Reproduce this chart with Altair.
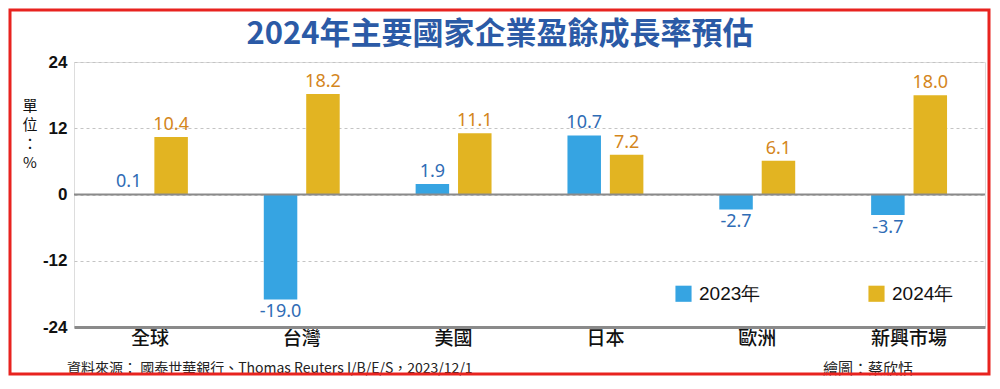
import altair as alt
import pandas as pd

regions = ["全球", "台灣", "美國", "日本", "歐洲", "新興市場"]
series = ["2023年", "2024年"]
v2023 = [0.1, -19.0, 1.9, 10.7, -2.7, -3.7]
v2024 = [10.4, 18.2, 11.1, 7.2, 6.1, 18.0]
y_ticks = [-24, -12, 0, 12, 24]
bar_colors = ["#36a4e2", "#e2b422"]
label_colors = ["#2f6cb5", "#d4861c"]

title_text = "2024年主要國家企業盈餘成長率預估"
unit_text = ["單", "位", "：", "%"]
source_text = "資料來源：  國泰世華銀行、Thomas Reuters I/B/E/S，2023/12/1"
credit_text = "繪圖：蔡欣恬"

rows = []
for r, a, b in zip(regions, v2023, v2024):
    rows.append({"region": r, "series": series[0], "value": a, "label": f"{a:.1f}"})
    rows.append({"region": r, "series": series[1], "value": b, "label": f"{b:.1f}"})
df = pd.DataFrame(rows)

W, H = 911, 265
FONT = "Noto Sans CJK TC"

x = alt.X("region:N", sort=regions, title=None,
          scale=alt.Scale(paddingInner=0.5, paddingOuter=0.25),
          axis=alt.Axis(labelAngle=0, labelFontSize=19, labelColor="#111",
                        labelFont=FONT, labelFontWeight=500, labelPadding=2,
                        ticks=False, domainColor="#8a8a8a", domainWidth=3))
xo = alt.XOffset("series:N", sort=series,
                 scale=alt.Scale(paddingInner=0.21, paddingOuter=0.0))
y = alt.Y("value:Q", title=None,
          scale=alt.Scale(domain=[-24, 24], nice=False),
          axis=alt.Axis(values=y_ticks, labelFontSize=17, labelColor="#111",
                        labelFont="Liberation Sans", labelFontWeight="bold",
                        labelExpr="'' + datum.value",
                        labelPadding=7, ticks=False, domain=False,
                        grid=True, gridDash=[3, 3], gridColor="#c4c4c4",
                        gridWidth=1))

base = alt.Chart(df)

bars = base.mark_bar().encode(
    x=x, xOffset=xo, y=y,
    color=alt.Color("series:N", sort=series,
                    scale=alt.Scale(domain=series, range=bar_colors),
                    legend=alt.Legend(title=None, orient="none",
                                      legendX=600, legendY=222,
                                      direction="horizontal",
                                      symbolType="square", symbolSize=260,
                                      symbolStrokeWidth=0, symbolOpacity=1,
                                      labelFontSize=19, labelFont="Liberation Sans",
                                      labelColor="#111", labelOffset=6,
                                      columnPadding=106, padding=0)),
)

txt_color = alt.Color("series:N", sort=series,
                      scale=alt.Scale(domain=series, range=label_colors),
                      legend=None)

pos_labels = base.transform_filter("datum.value >= 0").mark_text(
    baseline="bottom", dy=-3, fontSize=18, font="Noto Sans"
).encode(x=x, xOffset=xo, y=y, text="label:N", color=txt_color)

neg_labels = base.transform_filter("datum.value < 0").mark_text(
    baseline="top", dy=4, fontSize=18, font="Noto Sans"
).encode(x=x, xOffset=xo, y=y, text="label:N", color=txt_color)

zero = alt.Chart(pd.DataFrame({"v": [0]})).mark_rule(
    color="#8a8a8a", strokeWidth=2
).encode(y=alt.Y("v:Q", scale=alt.Scale(domain=[-24, 24], nice=False)))

title = alt.Chart(pd.DataFrame({"t": [title_text]})).mark_text(
    font=FONT, fontSize=31, fontWeight="bold", color="#2b5aa6",
    align="center", baseline="middle"
).encode(text="t:N", x=alt.value(426), y=alt.value(-27))

unit = alt.Chart(pd.DataFrame({"t": [unit_text]})).mark_text(
    font=FONT, fontSize=15, color="#111", align="center", baseline="top",
    lineHeight=19
).encode(text="t:N", x=alt.value(-44), y=alt.value(37))

source = alt.Chart(pd.DataFrame({"t": [source_text]})).mark_text(
    font=FONT, fontSize=14, color="#222", align="left", baseline="middle"
).encode(text="t:N", x=alt.value(-7), y=alt.value(307))

credit = alt.Chart(pd.DataFrame({"t": [credit_text]})).mark_text(
    font=FONT, fontSize=15, color="#222", align="left", baseline="middle"
).encode(text="t:N", x=alt.value(749), y=alt.value(307))

border = alt.Chart(pd.DataFrame({"t": [0]})).mark_rect(
    filled=False, stroke="#e8231f", strokeWidth=3
).encode(x=alt.value(-64), x2=alt.value(915), y=alt.value(-52), y2=alt.value(312))

chart = alt.layer(
    bars, zero, pos_labels, neg_labels, title, unit, source, credit, border
).resolve_scale(color="independent").properties(
    width=W, height=H,
    autosize=alt.AutoSizeParams(type="none"),
    padding={"left": 66, "top": 54, "right": 7, "bottom": 50},
).configure_view(stroke=None).configure(background="white")

chart.save("out.html", embed_options={"renderer": "svg", "actions": False})
